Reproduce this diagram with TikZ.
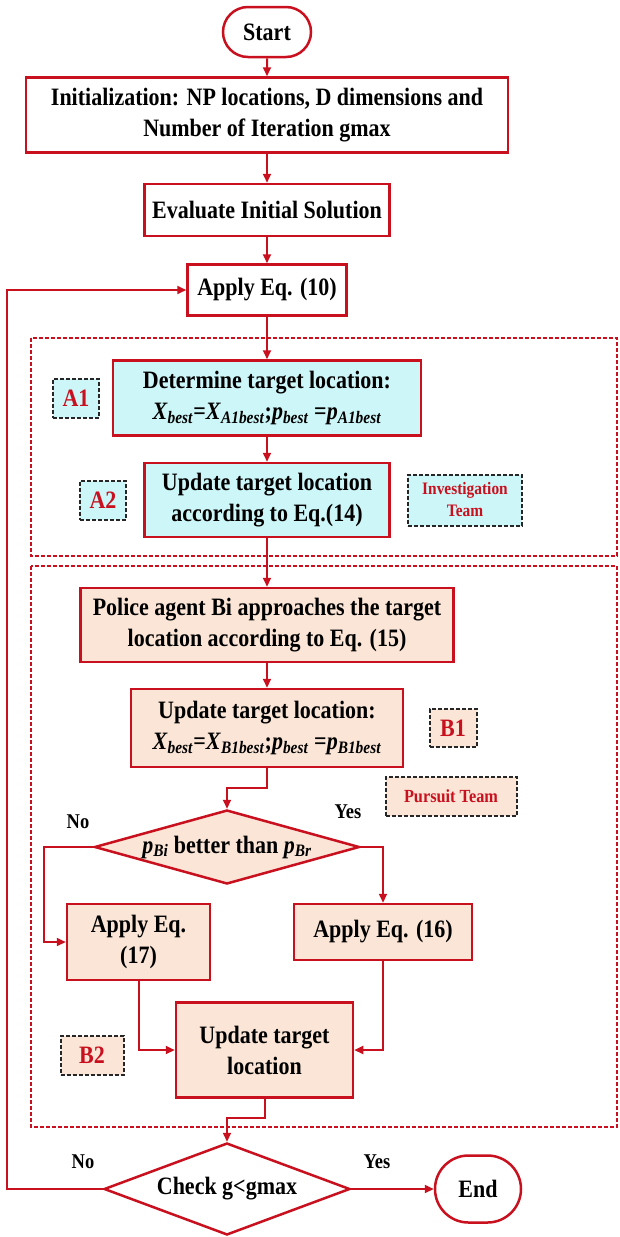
\documentclass[tikz,border=0pt]{standalone}
\usepackage{fontspec}
\setmainfont{Liberation Serif}[FakeStretch=0.88]
\usetikzlibrary{arrows.meta,shapes.geometric,shapes.misc}
\definecolor{myred}{RGB}{200,16,30}
\definecolor{cyanfill}{RGB}{204,246,248}
\definecolor{peach}{RGB}{251,229,214}
\newcommand\mx[2]{\textit{#1}\textsubscript{\textit{#2}}}
\begin{document}
\begin{tikzpicture}[x=1pt,y=-1pt,
  base/.style={draw=myred, line width=2.5pt, align=center, inner sep=1pt,
    font=\bfseries\fontsize{25}{31}\selectfont},
  box/.style={base, rectangle, fill=white},
  cbox/.style={base, rectangle, fill=cyanfill},
  pbox/.style={base, rectangle, fill=peach},
  term/.style={base, rounded rectangle, fill=white},
  dia/.style={base, diamond, inner sep=0pt},
  lbl/.style={draw=black!85, line width=2pt, dash pattern=on 4pt off 2pt,
    text=myred, align=center, inner sep=1pt, font=\bfseries\fontsize{25}{26}\selectfont},
  grp/.style={draw=myred, line width=2pt, dash pattern=on 4pt off 2pt},
  arr/.style={draw=myred, line width=2pt, -{Triangle[length=9pt,width=8pt]}},
  yn/.style={font=\bfseries\fontsize{21}{22}\selectfont}
]
\useasboundingbox (0,0) rectangle (619,1237);
% groups
\draw[grp] (31,338) rectangle (617,556);
\draw[grp] (31,566) rectangle (617,1127);

\node[term, minimum width=90pt, minimum height=50pt] (start) at (267,32) {Start};
\node[box, minimum width=482pt, minimum height=75pt] (init) at (267,115)
  {Initialization: NP locations, D dimensions and\\Number of Iteration gmax};
\node[box, minimum width=245pt, minimum height=52pt] (eval) at (267,210) {Evaluate Initial Solution};
\node[box, minimum width=159pt, minimum height=51pt] (ap10) at (267,290) {Apply Eq. (10)};

\node[cbox, minimum width=308pt, minimum height=75pt] (det) at (267,398)
  {Determine target location:\\\mx{X}{best}=\mx{X}{A1best};\mx{p}{best} =\mx{p}{A1best}};
\node[cbox, minimum width=245pt, minimum height=74pt] (upa) at (267,500)
  {Update target location\\according to Eq.(14)};
\node[lbl, fill=cyanfill, minimum width=46pt, minimum height=39pt] (a1) at (76,398) {A1};
\node[lbl, fill=cyanfill, minimum width=46pt, minimum height=39pt] (a2) at (103,500) {A2};
\node[lbl, fill=cyanfill, minimum width=114pt, minimum height=51pt,
  font=\bfseries\fontsize{17.5}{22}\selectfont] (inv) at (465,500) {Investigation\\Team};

\node[pbox, minimum width=373pt, minimum height=74pt] (pol) at (267,625)
  {Police agent Bi approaches the target\\location according to Eq. (15)};
\node[pbox, minimum width=272pt, minimum height=78pt] (upb) at (267,728)
  {Update target location:\\\mx{X}{best}=\mx{X}{B1best};\mx{p}{best} =\mx{p}{B1best}};
\node[lbl, fill=peach, minimum width=47pt, minimum height=38pt] (b1) at (453,728) {B1};
\node[lbl, fill=peach, minimum width=131pt, minimum height=39pt,
  font=\bfseries\fontsize{18.5}{20}\selectfont] (pur) at (451,796) {Pursuit Team};

\node[dia, fill=peach, aspect=3.58, minimum width=265pt, minimum height=74pt] (d1) at (227,847)
  {\mx{p}{Bi} better than \mx{p}{Br}};
\node[pbox, minimum width=143pt, minimum height=76pt] (ap17) at (138.5,942) {Apply Eq.\\(17)};
\node[pbox, minimum width=178pt, minimum height=56pt] (ap16) at (383,932) {Apply Eq. (16)};
\node[pbox, minimum width=177pt, minimum height=95pt] (upc) at (264.5,1050) {Update target\\location};
\node[lbl, fill=peach, minimum width=63pt, minimum height=39pt] (b2) at (92,1055) {B2};

\node[dia, fill=white, aspect=2.67, minimum width=246pt, minimum height=92pt] (chk) at (227,1189)
  {Check g<gmax};
\node[term, minimum width=88pt, minimum height=67pt] (end) at (478,1189) {End};

\node[yn] (no1) at (78,822) {No};
\node[yn] (yes1) at (348,812) {Yes};
\node[yn] (no2) at (83,1162) {No};
\node[yn] (yes2) at (377,1162) {Yes};

% connectors
\draw[arr] (start) -- (init);
\draw[arr] (init) -- (eval);
\draw[arr] (eval) -- (ap10);
\draw[arr] (ap10) -- (det);
\draw[arr] (det) -- (upa);
\draw[arr] (upa) -- (pol);
\draw[arr] (pol) -- (upb);
\draw[arr] (upb.south) -- ++(0,20) -| (d1.north);
\draw[arr] (d1.west) -- ++(-49,0) |- (ap17.west);
\draw[arr] (d1.east) -| (ap16.north);
\draw[arr] (ap17.south) |- (upc.west);
\draw[arr] (ap16.south) |- (upc.east);
\draw[arr] (upc.south) -- ++(0,19) -| (chk.north);
\draw[arr] (chk.east) -- (end.west);
\draw[arr] (chk.west) -- ++(-96,0) |- (ap10.west);
\end{tikzpicture}
\end{document}
